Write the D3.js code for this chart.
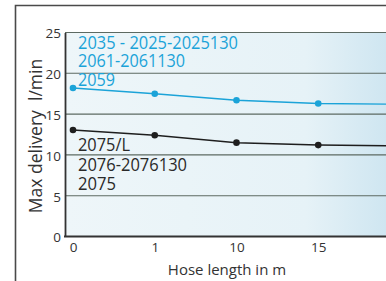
<!DOCTYPE html>
<html>
<head>
<meta charset="utf-8">
<script src="https://cdn.jsdelivr.net/npm/d3@7"></script>
<style>
  body { margin: 0; background: #fff; }
  svg { display: block; }
  text { font-family: "Open Sans", "DejaVu Sans", sans-serif; }
</style>
</head>
<body>
<div id="chart"></div>
<script>
// hose lengths (m) on the x axis, the last one runs off the right edge
var hoseLengths = ["0", "1", "10", "15", "20"];
var visibleTicks = ["0", "1", "10", "15"];
// max delivery l/min for the two pump groups
var blueSeries = [18.2, 17.5, 16.7, 16.3, 16.2];
var blackSeries = [13.05, 12.4, 11.5, 11.2, 11.1];
var yTicks = [0, 5, 10, 15, 20, 25];
var blueLabels = ["2035 - 2025-2025130", "2061-2061130", "2059"];
var blackLabels = ["2075/L", "2076-2076130", "2075"];

var svgWidth = 386;
var svgHeight = 281;

var svg = d3.select("#chart")
  .append("svg")
  .attr("width", svgWidth)
  .attr("height", svgHeight);

// plot area
var plot = { left: 65, top: 32.5, right: 386, bottom: 236.5 };

var defs = svg.append("defs");
var grad = defs.append("linearGradient")
  .attr("id", "bg")
  .attr("x1", "0").attr("x2", "1").attr("y1", "0").attr("y2", "0");
grad.append("stop").attr("offset", "0").attr("stop-color", "#eef6f9");
grad.append("stop").attr("offset", "0.75").attr("stop-color", "#e6f2f7");
grad.append("stop").attr("offset", "1").attr("stop-color", "#cfe6f1");

// outer frame
svg.append("path")
  .attr("d", "M15.5,281 L15.5,5.5 L386,5.5")
  .attr("fill", "none")
  .attr("stroke", "#4a4a4a")
  .attr("stroke-width", 1.6);

svg.append("rect")
  .attr("x", plot.left)
  .attr("y", plot.top)
  .attr("width", plot.right - plot.left)
  .attr("height", plot.bottom - plot.top)
  .attr("fill", "url(#bg)");

var x = d3.scalePoint()
  .domain(hoseLengths)
  .range([73, 400]);

var y = d3.scaleLinear()
  .domain([0, 25])
  .range([plot.bottom, plot.top]);

// gridlines
svg.append("g")
  .selectAll("line")
  .data(yTicks.filter(d => d > 0))
  .enter()
  .append("line")
  .attr("x1", plot.left)
  .attr("x2", plot.right)
  .attr("y1", d => y(d))
  .attr("y2", d => y(d))
  .attr("stroke", "#5d6a62")
  .attr("stroke-width", 1.1);

// y axis
var leftAxis = d3.axisLeft(y).tickValues(yTicks).tickSize(0).tickPadding(4);
var yAxis = svg.append("g")
  .attr("transform", `translate(${plot.left},0)`)
  .call(leftAxis);
yAxis.select(".domain").attr("stroke", "#333").attr("stroke-width", 1.8);
yAxis.selectAll("text")
  .attr("font-size", 13.5)
  .attr("fill", "#333")
  .attr("dy", "0.4em");

// x axis (the 20 m label sits past the right edge, so it is not drawn)
var bottomAxis = d3.axisBottom(x).tickValues(visibleTicks).tickSize(0).tickPadding(6);
var xAxis = svg.append("g")
  .attr("transform", `translate(0,${plot.bottom})`)
  .call(bottomAxis);
xAxis.select(".domain").remove();
xAxis.append("line")
  .attr("x1", plot.left - 1)
  .attr("x2", plot.right)
  .attr("stroke", "#333")
  .attr("stroke-width", 2);
xAxis.selectAll("text")
  .attr("font-size", 13.5)
  .attr("fill", "#333");

// axis titles
svg.append("text")
  .attr("transform", "translate(42,136) rotate(-90)")
  .attr("text-anchor", "middle")
  .attr("font-size", 17.5)
  .attr("fill", "#333")
  .attr("xml:space", "preserve")
  .text("Max delivery  l/min");

svg.append("text")
  .attr("x", 227)
  .attr("y", 275)
  .attr("text-anchor", "middle")
  .attr("font-size", 15)
  .attr("fill", "#333")
  .text("Hose length in m");

// lines
var line = d3.line()
  .x((d, i) => x(hoseLengths[i]))
  .y(d => y(d));

function drawSeries(values, color, width) {
  svg.append("path")
    .datum(values)
    .attr("fill", "none")
    .attr("stroke", color)
    .attr("stroke-width", width)
    .attr("d", line);

  svg.append("g")
    .selectAll("circle")
    .data(values)
    .enter()
    .append("circle")
    .attr("cx", (d, i) => x(hoseLengths[i]))
    .attr("cy", d => y(d))
    .attr("r", 3.3)
    .attr("fill", color);
}

drawSeries(blueSeries, "#1ba3d8", 1.4);
drawSeries(blackSeries, "#1e1e1e", 1.5);

// model labels
var blueWidths = [160, 107, 37];
var blackWidths = [52, 109, 38];

svg.append("g")
  .selectAll("text")
  .data(blueLabels)
  .enter()
  .append("text")
  .attr("x", 78)
  .attr("y", (d, i) => 48.5 + i * 18.5)
  .attr("font-size", 18)
  .attr("fill", "#1ba3d8")
  .attr("textLength", (d, i) => blueWidths[i])
  .attr("lengthAdjust", "spacingAndGlyphs")
  .text(d => d);

svg.append("g")
  .selectAll("text")
  .data(blackLabels)
  .enter()
  .append("text")
  .attr("x", 78)
  .attr("y", (d, i) => 151 + i * 19.5)
  .attr("font-size", 18)
  .attr("fill", "#2a2a2a")
  .attr("textLength", (d, i) => blackWidths[i])
  .attr("lengthAdjust", "spacingAndGlyphs")
  .text(d => d);
</script>
</body>
</html>
